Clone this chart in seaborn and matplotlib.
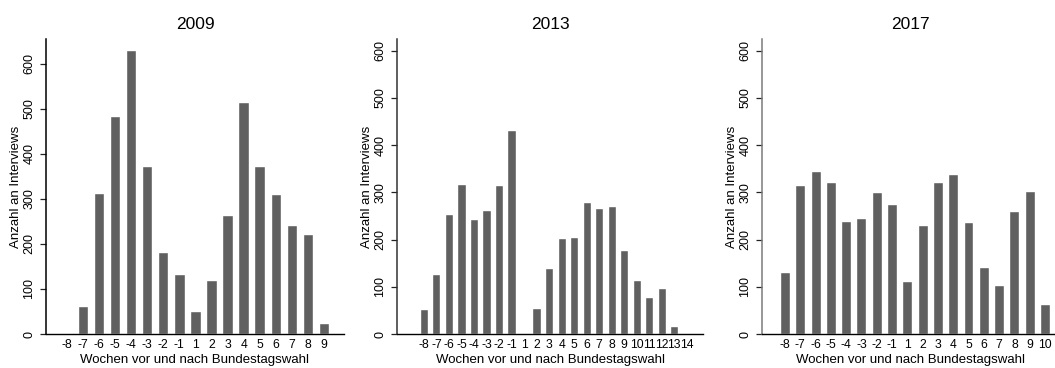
import matplotlib
matplotlib.use("Agg")
import matplotlib.pyplot as plt
import seaborn as sns
import pandas as pd

# weeks before/after the federal election and number of interviews
weeks_2009 = ["-8", "-7", "-6", "-5", "-4", "-3", "-2", "-1", "1", "2", "3", "4", "5", "6", "7", "8", "9"]
counts_2009 = [0, 63, 312, 484, 630, 373, 182, 133, 50, 119, 265, 515, 374, 310, 241, 221, 24]

weeks_2013 = ["-8", "-7", "-6", "-5", "-4", "-3", "-2", "-1", "1", "2", "3", "4", "5", "6", "7",
              "8", "9", "10", "11", "12", "13", "14"]
counts_2013 = [54, 128, 255, 317, 243, 262, 315, 432, 3, 56, 140, 204, 205, 279, 267,
               272, 178, 114, 78, 98, 16, 2]

weeks_2017 = ["-8", "-7", "-6", "-5", "-4", "-3", "-2", "-1", "1", "2", "3", "4", "5", "6", "7", "8", "9", "10"]
counts_2017 = [131, 315, 346, 323, 240, 245, 300, 276, 112, 230, 321, 338, 237, 143, 104, 260, 302, 64]

years = ["2009", "2013", "2017"]

sns.set_style("white")
plt.rcParams["font.family"] = ["Liberation Sans", "DejaVu Sans"]
plt.rcParams.update({"text.color": "black", "axes.labelcolor": "black",
                     "xtick.color": "black", "ytick.color": "black"})

W, H = 1055, 368
fig = plt.figure(figsize=(W / 100, H / 100), dpi=100)

# panel boxes in pixels: left, right, top, bottom, xlim, ymax, spine colour
panels = [
    (46, 344, 39, 334, (-1.3, 17.25), 655, "black"),
    (397, 703, 39, 334, (-2.15, 22.3), 625, "#333333"),
    (762, 1058, 39, 334, (-1.5, 17.85), 625, "#7a7a7a"),
]
data = [(weeks_2009, counts_2009), (weeks_2013, counts_2013), (weeks_2017, counts_2017)]

for (l, r, t, b, xl, ymax, spc), (wk, ct), yr in zip(panels, data, years):
    ax = fig.add_axes([l / W, 1 - b / H, (r - l) / W, (b - t) / H])
    df = pd.DataFrame({"week": wk, "n": ct})
    sns.barplot(data=df, x="week", y="n", order=wk, color="#606060",
                saturation=1, width=0.65, ax=ax)
    ax.set_xlim(*xl)
    ax.set_ylim(0, ymax)
    ax.set_yticks([0, 100, 200, 300, 400, 500, 600])
    sns.despine(ax=ax)
    ax.spines["left"].set_color(spc)
    ax.spines["left"].set_linewidth(1.1)
    ax.spines["bottom"].set_color("black")
    ax.spines["bottom"].set_linewidth(1.0)
    ax.tick_params(axis="y", length=4.3, width=0.9, color="#222222", labelsize=9,
                   pad=3.4, left=True)
    ax.tick_params(axis="x", length=0, labelsize=8.7, pad=3.5)
    for lab in ax.get_yticklabels():
        lab.set_rotation(90)
        lab.set_va("center")
    ax.set_title(yr, fontsize=12.5, pad=7)
    ax.set_xlabel("Wochen vor und nach Bundestagswahl", fontsize=9.5)
    ax.set_ylabel("Anzahl an Interviews", fontsize=9.5)
    ax.xaxis.set_label_coords(0.5, -29 / (b - t))
    ax.xaxis.label.set_va("baseline")
    ax.yaxis.set_label_coords(-30 / (r - l), 0.5)
    ax.yaxis.label.set_va("center")

fig.savefig("out.png", dpi=100)
